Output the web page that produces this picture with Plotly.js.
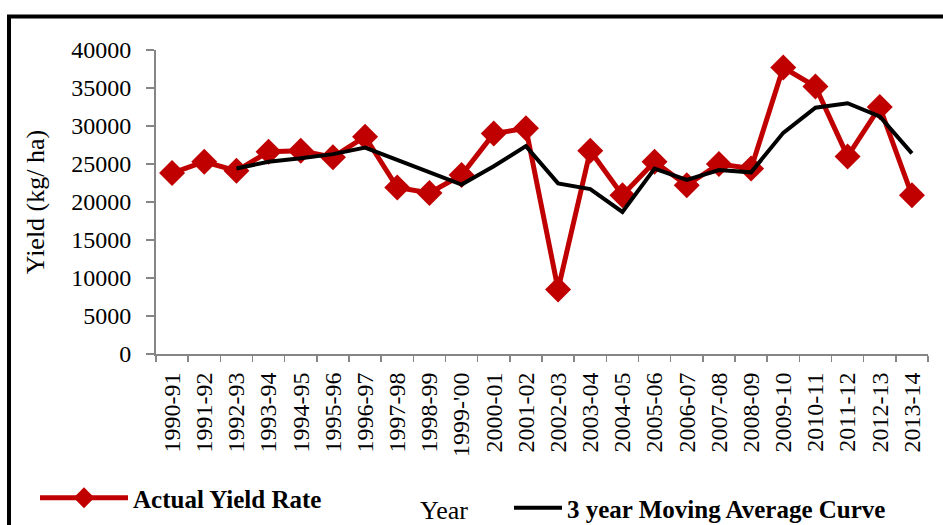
<!DOCTYPE html>
<html>
<head>
<meta charset="utf-8">
<script src="https://cdn.plot.ly/plotly-3.0.1.min.js"></script>
<style>
html,body{margin:0;padding:0;background:#fff;}
#chart{width:943px;height:525px;}
</style>
</head>
<body>
<div id="chart"></div>
<script>
const years = ["1990-91","1991-92","1992-93","1993-94","1994-95","1995-96","1996-97","1997-98","1998-99","1999-'00","2000-01","2001-02","2002-03","2003-04","2004-05","2005-06","2006-07","2007-08","2008-09","2009-10","2010-11","2011-12","2012-13","2013-14"];
const actualYield = [23800,25300,24100,26600,26750,25900,28600,21900,21200,23550,29000,29700,8500,26750,20900,25300,22200,25000,24400,37700,35200,26000,32500,20900];
const maYears = years.slice(2);
const movingAverage = [24400,25300,25750,26300,27150,25500,23900,22300,24700,27350,22450,21700,18700,24400,22900,24200,23900,29100,32400,33000,31250,26400];
const yTicks = [0,5000,10000,15000,20000,25000,30000,35000,40000];

const FONT = "Liberation Serif, Times New Roman, serif";

const traces = [
  {
    x: years, y: actualYield, name: "Actual Yield Rate", type: "scatter", mode: "lines+markers",
    line: {color: "#C00000", width: 5},
    marker: {symbol: "diamond", size: 20, color: "#C00000"},
    legend: "legend"
  },
  {
    x: maYears, y: movingAverage, name: "3 year Moving Average Curve", type: "scatter", mode: "lines",
    line: {color: "#000000", width: 4},
    legend: "legend2"
  }
];

const L = 156, R = 928, T = 50, B = 354;
const px = v => (v - L) / (R - L);
const py = v => (B - v) / (B - T);

const layout = {
  width: 943, height: 525,
  margin: {l: L, r: 943 - R, t: T, b: 525 - B, autoexpand: false},
  paper_bgcolor: "#fff", plot_bgcolor: "#fff",
  font: {family: FONT, size: 24, color: "#000"},
  showlegend: true,
  xaxis: {
    type: "category", categoryorder: "array", categoryarray: years,
    range: [-0.5, years.length - 0.5],
    showgrid: false, zeroline: false, automargin: false,
    showline: true, linecolor: "#868686", linewidth: 2,
    ticks: "outside", tickson: "boundaries", ticklen: 6, tickcolor: "#868686", tickwidth: 1.5,
    tickangle: -90, tickfont: {family: FONT, size: 24, color: "#000"},
    ticklabelstandoff: 7
  },
  yaxis: {
    range: [0, 40000], tickvals: yTicks, ticktext: yTicks.map(String),
    showgrid: false, zeroline: false, automargin: false,
    showline: true, linecolor: "#868686", linewidth: 2,
    ticks: "outside", ticklen: 8, tickcolor: "#868686", tickwidth: 1.5,
    tickfont: {family: FONT, size: 24, color: "#000"},
    ticklabelstandoff: 10,
    title: {text: "Yield (kg/ ha)", font: {family: FONT, size: 26, color: "#000"}, standoff: 19}
  },
  legend: {
    x: px(35), y: py(498), xanchor: "left", yanchor: "middle",
    orientation: "h", bgcolor: "rgba(0,0,0,0)",
    font: {family: FONT, size: 25, color: "#000", weight: "bold"},
    itemwidth: 88
  },
  legend2: {
    x: px(509), y: py(508), xanchor: "left", yanchor: "middle",
    orientation: "h", bgcolor: "rgba(0,0,0,0)",
    font: {family: FONT, size: 25, color: "#000", weight: "bold"},
    itemwidth: 48
  },
  annotations: [
    {text: "Year", xref: "paper", yref: "paper", x: px(444), y: py(510),
     xanchor: "center", yanchor: "middle", showarrow: false,
     font: {family: FONT, size: 26, color: "#000"}}
  ],
  shapes: [
    {type: "line", xref: "paper", yref: "paper", x0: px(9), x1: px(9), y0: py(15), y1: py(530),
     line: {color: "#000", width: 4}},
    {type: "line", xref: "paper", yref: "paper", x0: px(7), x1: px(945), y0: py(16.5), y1: py(16.5),
     line: {color: "#000", width: 4}}
  ]
};

Plotly.newPlot("chart", traces, layout, {displayModeBar: false, staticPlot: true});
</script>
</body>
</html>
